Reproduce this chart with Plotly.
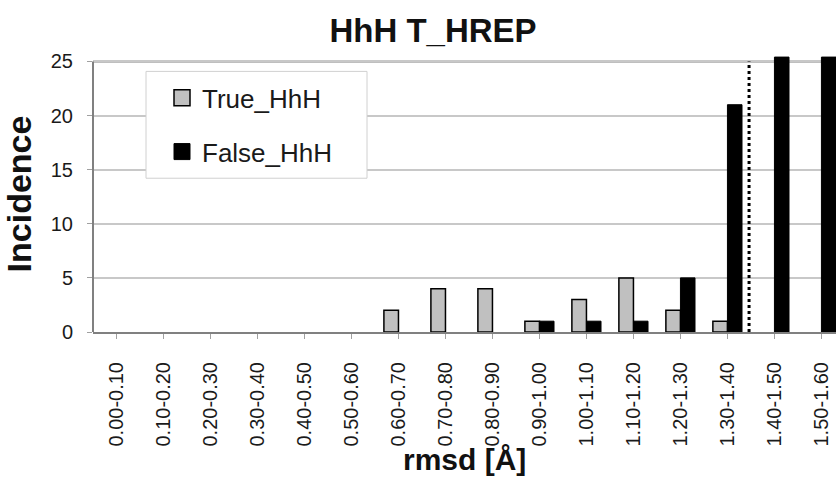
import plotly.graph_objects as go

categories = ["0.00-0.10", "0.10-0.20", "0.20-0.30", "0.30-0.40", "0.40-0.50",
              "0.50-0.60", "0.60-0.70", "0.70-0.80", "0.80-0.90", "0.90-1.00",
              "1.00-1.10", "1.10-1.20", "1.20-1.30", "1.30-1.40", "1.40-1.50",
              "1.50-1.60"]
true_hhh = [0, 0, 0, 0, 0, 0, 2, 4, 4, 1, 3, 5, 2, 1, 0, 0]
false_hhh = [0, 0, 0, 0, 0, 0, 0, 0, 0, 1, 1, 1, 5, 21, 25.4, 25.4]
y_ticks = [0, 5, 10, 15, 20, 25]
y_max = 25
threshold_pos = 13.46  # dotted cut-off line, in category units

FONT = "Arial, 'Liberation Sans', sans-serif"
TXT = "#1a1a1a"

# pixel geometry of the plot area
L, R, W, H = 93, 0, 836, 479
TOP25, BOT = 61, 332
ppu = (BOT - TOP25) / y_max
y_top = y_max + 0.5
T = BOT - y_top * ppu
plot_h = BOT - T
plot_w = W - L - R

xs = list(range(len(categories)))


def nz(vals):
    return [v if v else None for v in vals]


fig = go.Figure()
fig.add_trace(go.Bar(
    x=xs, y=nz(true_hhh), name="True_HhH", showlegend=False,
    marker=dict(color="#c0c0c0", line=dict(color="#000000", width=1.5)),
))
fig.add_trace(go.Bar(
    x=xs, y=nz(false_hhh), name="False_HhH", showlegend=False,
    marker=dict(color="#000000", line=dict(color="#000000", width=1)),
))
# legend entries
fig.add_trace(go.Scatter(
    x=[None], y=[None], mode="markers", name="True_HhH", legendgroup="a",
    marker=dict(symbol="square", size=16, color="#c0c0c0",
                line=dict(color="#000000", width=1.5)),
))
fig.add_trace(go.Scatter(
    x=[None], y=[None], mode="markers", name="False_HhH", legendgroup="b",
    marker=dict(symbol="square", size=16, color="#000000",
                line=dict(color="#000000", width=1)),
))


def px_x(p):
    return (p - L) / plot_w


def px_y(p):
    return (BOT - p) / plot_h


# legend box
fig.add_shape(type="rect", xref="paper", yref="paper",
              x0=px_x(146), x1=px_x(367), y0=px_y(178), y1=px_y(71),
              fillcolor="white", line=dict(color="#d0d0d0", width=1),
              layer="above")
# plot-area top border and left axis line
fig.add_shape(type="line", xref="paper", yref="y", x0=0, x1=1, y0=y_max, y1=y_max,
              line=dict(color="#808080", width=2), layer="below")
fig.add_shape(type="line", xref="paper", yref="y", x0=0, x1=0, y0=0, y1=y_max,
              line=dict(color="#808080", width=2), layer="above")

# dotted threshold line
fig.add_shape(type="line", xref="x", yref="y",
              x0=threshold_pos, x1=threshold_pos, y0=0, y1=y_max,
              line=dict(color="black", width=3, dash="dot"), layer="above")

# x-axis title
fig.add_annotation(text="<b>rmsd [Å]</b>", xref="paper", yref="paper",
                   x=0.5, y=px_y(460), xanchor="center", yanchor="middle",
                   showarrow=False,
                   font=dict(size=30, family=FONT, color="#111111"))

fig.update_layout(
    width=W, height=H,
    margin=dict(l=L, r=R, t=T, b=H - BOT, autoexpand=False),
    paper_bgcolor="white", plot_bgcolor="white",
    font=dict(family=FONT, color=TXT),
    barmode="group", bargap=0.38, bargroupgap=0,
    showlegend=True,
    legend=dict(x=px_x(162), y=px_y(74),
                xanchor="left", yanchor="top",
                bgcolor="rgba(0,0,0,0)", borderwidth=0,
                font=dict(size=26, family=FONT, color=TXT),
                tracegroupgap=17, traceorder="grouped",
                itemsizing="trace"),
    title=dict(text="<b>HhH T_HREP</b>", x=433 / W, xanchor="center",
               y=1 - 30 / H, yanchor="middle", automargin=False,
               font=dict(size=33, family=FONT, color="#111111")),
)

fig.update_xaxes(
    range=[-0.5, 15.31], automargin=False,
    tickmode="array", tickvals=xs, ticktext=categories,
    tickangle=-90, tickfont=dict(size=20, family=FONT, color=TXT),
    tickson="boundaries", ticks="outside", ticklen=5, tickcolor="#a0a0a0",
    ticklabelstandoff=15,
    showline=True, linecolor="#808080", linewidth=2, mirror=False,
    showgrid=False, zeroline=False,
)
fig.update_yaxes(
    range=[0, y_top], automargin=False, tickmode="array", tickvals=y_ticks,
    tickfont=dict(size=20, family=FONT, color=TXT),
    ticks="outside", ticklen=5, tickcolor="#a0a0a0",
    ticklabelstandoff=10,
    showline=False,
    showgrid=True, gridcolor="#c8c8c8", gridwidth=1.5, zeroline=False,
    title=dict(text="<b>Incidence</b>", font=dict(size=34, family=FONT, color="#111111"),
               standoff=16),
)

fig.write_html("out.html",
               config={"displayModeBar": False},
               post_script="document.body.style.margin='0px';"
                           "document.body.style.padding='0px';"
                           "document.body.style.overflow='hidden';")
